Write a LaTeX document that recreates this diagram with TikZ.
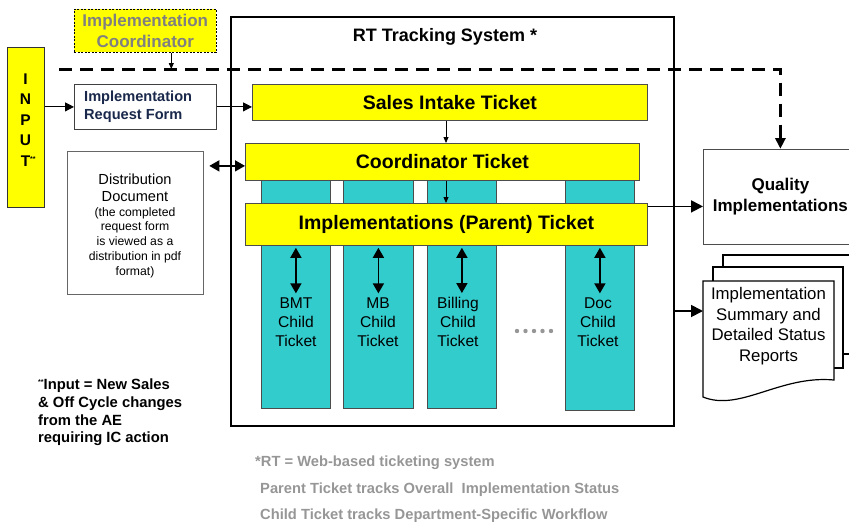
\documentclass[tikz,border=0pt]{standalone}
\usepackage{fontspec}
\setmainfont{Liberation Sans}
\usetikzlibrary{arrows.meta}
\definecolor{tyellow}{RGB}{255,255,0}
\definecolor{tteal}{RGB}{51,204,204}
\definecolor{tgray}{RGB}{128,128,128}
\definecolor{tnote}{RGB}{150,150,150}
\definecolor{tnavy}{RGB}{25,40,75}
\begin{document}
\begin{tikzpicture}[x=1pt,y=-1pt,
  tk/.style={draw=black!70, line width=0.8pt, fill=tyellow, inner sep=0, anchor=north west, font=\fontsize{19.5}{22}\selectfont\bfseries},
  colbox/.style={draw=black!70, line width=0.8pt, fill=tteal, inner sep=0, anchor=north west},
  wbox/.style={draw=black!60, line width=0.8pt, fill=white, inner sep=0, anchor=north west},
  arr/.style={line width=1pt, -{Triangle[length=9pt,width=9pt]}},
  barr/.style={line width=1.8pt, -{Triangle[length=12pt,width=12pt]}},
  sarr/.style={line width=0.8pt, -{Triangle[length=6pt,width=5pt]}},
  darr/.style={line width=1.6pt, {Triangle[length=10pt,width=11pt]}-{Triangle[length=10pt,width=11pt]}},
  dashline/.style={line width=3pt, dash pattern=on 13pt off 8pt},
  docs/.style={draw=black, line width=1.2pt, fill=white},
  collbl/.style={inner sep=0, align=center, font=\fontsize{15.6}{19}\selectfont},
  note/.style={inner sep=0, anchor=west, text=tnote, font=\fontsize{14.7}{17}\selectfont\bfseries}
]
\useasboundingbox (0,0) rectangle (849,522);

% outer RT box
\node[wbox, draw=black, line width=2pt, minimum width=443, minimum height=409] (rt) at (230,16) {};
\node[inner sep=0, font=\fontsize{18}{20}\selectfont\bfseries] (rttitle) at (445,37) {RT Tracking System *};

% dashed coordinator line
\coordinate (dstart) at (59,69);

% teal columns
\node[colbox, minimum width=69, minimum height=247] (c1) at (261,161) {};
\node[colbox, minimum width=70, minimum height=247] (c2) at (343,161) {};
\node[colbox, minimum width=69, minimum height=247] (c3) at (427,161) {};
\node[colbox, minimum width=69, minimum height=249] (c4) at (565,161) {};

% tickets
\node[tk, minimum width=395, minimum height=36] (sales) at (252,84) {Sales Intake Ticket};
\node[tk, minimum width=394, minimum height=37] (coordT) at (245,143) {Coordinator Ticket};
\node[tk, minimum width=402, minimum height=42] (parent) at (245,203) {Implementations (Parent) Ticket};

% column labels
\node[collbl] (l1) at (296,322) {BMT\\Child\\Ticket};
\node[collbl] (l2) at (378,322) {MB\\Child\\Ticket};
\node[collbl] (l3) at (458,322) {Billing\\Child\\Ticket};
\node[collbl] (l4) at (598,322) {Doc\\Child\\Ticket};

\foreach \i in {1,...,4}{
  \draw[darr, shorten <=2pt, shorten >=4pt] (parent.south -| c\i.center) -- (l\i.north -| c\i.center);
}

% dots
\foreach \dx in {517,525.5,534,542.5,551}{
  \fill[tnote] (\dx,331) circle (2.2);
}

% ticket arrows
\coordinate (ax) at (446,0);
\draw[sarr] (sales.south -| ax) -- (coordT.north -| ax);
\draw[sarr] (coordT.south -| ax) -- (parent.north -| ax);

% Implementation coordinator
\node[wbox, fill=tyellow, draw=black, line width=0.6pt, dash pattern=on 2pt off 1.5pt, minimum width=142, minimum height=43, align=center, font=\fontsize{17}{20.5}\selectfont\bfseries, text=tgray] (coord) at (74,9) {Implementation\\Coordinator};
\draw[sarr] ([xshift=26pt]coord.south) -- ([xshift=26pt]coord.south |- dstart);

% INPUT
\node[wbox, draw=black!80, fill=tyellow, minimum width=37, minimum height=160] (input) at (7,47) {};
\node[inner sep=0, align=center, font=\fontsize{15.5}{20.5}\selectfont\bfseries] (inlbl) at (25.5,120) {I\\N\\P\\U\\T\rlap{\raisebox{5pt}{\fontsize{7}{7}\selectfont **}}};

% Implementation request form
\node[wbox, draw=black!75, minimum width=142, minimum height=45] (form) at (74,84) {};
\node[inner sep=0, anchor=west, align=left, text=tnavy, font=\fontsize{14.6}{17.5}\selectfont\bfseries] (formlbl) at (84,106.5) {Implementation\\Request Form};
\draw[arr] (input.east |- form.west) -- (form.west);
\draw[arr] (form.east) -- (form.east -| sales.west);

% Distribution document
\node[wbox, minimum width=136, minimum height=143] (dist) at (67,151) {};
\node[inner sep=0, align=center, font=\fontsize{14.6}{17}\selectfont] (dist1) at (135,188) {Distribution\\Document};
\node[inner sep=0, align=center, font=\fontsize{12.2}{14.7}\selectfont] (dist2) at (135,242.5) {(the completed\\request form\\is viewed as a\\distribution in pdf\\format)};
\draw[darr, line width=1.4pt, shorten <=5.5pt] ([yshift=-4pt]dist.east |- coordT.west) -- ([yshift=-4pt]coordT.west);

% Quality implementations
\node[wbox, draw=black!70, minimum width=154, minimum height=95, align=center, font=\fontsize{17}{21}\selectfont\bfseries] (quality) at (703,149) {Quality\\Implementations};
\draw[barr] ([yshift=18pt]parent.east) -- ([yshift=18pt]parent.east -| quality.west);

% dashed line to quality
\draw[dashline] (dstart) -- (dstart -| quality.north) -- ([yshift=10pt]quality.north);
\fill ([yshift=11pt]quality.north) -- ++(-5.5,0) -- ([yshift=0.5pt]quality.north) -- ([xshift=5.5pt,yshift=11pt]quality.north) -- cycle;

% reports stack
\draw[docs] (723,255) rectangle (853,354);
\draw[docs] (713,267) rectangle (843,368);
\draw[docs] (703,281) -- (834,281) -- (834,380) .. controls (780,375) and (740,412) .. (703,397) -- cycle;
\coordinate (rep) at (703,311);
\node[inner sep=0, align=center, font=\fontsize{16.8}{20.5}\selectfont] (replbl) at (768.5,326) {Implementation\\Summary and\\Detailed Status\\Reports};
\draw[barr] (rt.east |- rep) -- (rep);

% footnotes
\node[inner sep=0, anchor=north west, align=left, font=\fontsize{14.8}{17.6}\selectfont\bfseries] (foot) at (38,379) {\raisebox{5pt}{\fontsize{7}{7}\selectfont **}Input = New Sales\\\& Off Cycle changes\\from the AE\\requiring IC action};
\node[note] (note1) at (255,463) {*RT = Web-based ticketing system};
\node[note] (note2) at (260,490) {Parent Ticket tracks Overall\ \ Implementation Status};
\node[note] (note3) at (260,516) {Child Ticket tracks Department-Specific Workflow};
\end{tikzpicture}
\end{document}
